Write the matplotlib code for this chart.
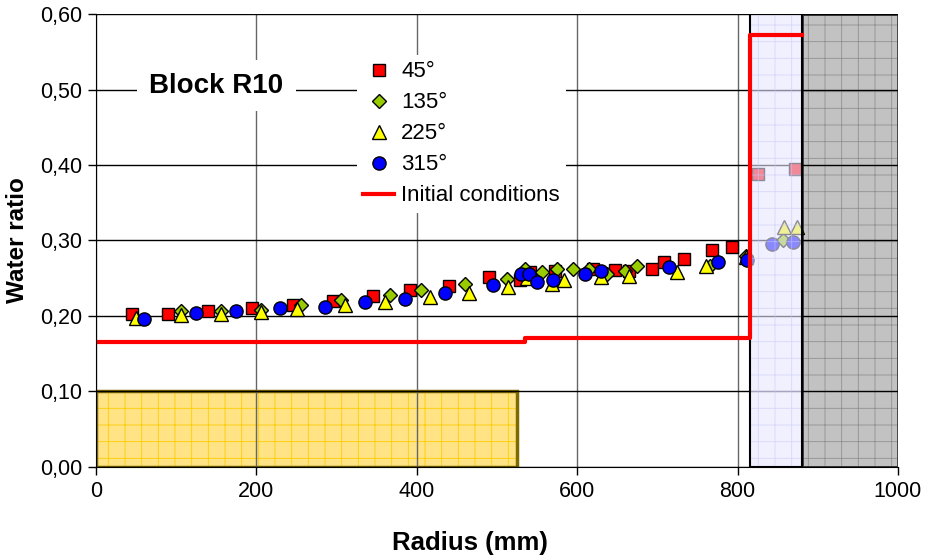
import numpy as np
import matplotlib
matplotlib.use('Agg')
import matplotlib.pyplot as plt
from matplotlib.patches import Rectangle
from matplotlib.ticker import FuncFormatter

plt.rcParams['font.family'] = ['Liberation Sans', 'DejaVu Sans']
plt.rcParams['hatch.linewidth'] = 0.6

# measured water ratio, block R10
r_45 = [45, 90, 140, 195, 245, 296, 345, 391, 440, 490, 529, 541, 572, 620, 647, 665, 693, 708, 733, 768, 793, 826, 871]
w_45 = [0.203, 0.202, 0.206, 0.211, 0.215, 0.220, 0.227, 0.234, 0.240, 0.252, 0.248, 0.258, 0.260, 0.262, 0.261, 0.259, 0.262, 0.271, 0.275, 0.287, 0.292, 0.388, 0.395]

r_135 = [106, 156, 206, 255, 305, 366, 405, 460, 512, 535, 556, 575, 595, 615, 637, 660, 675, 765, 810, 856]
w_135 = [0.206, 0.207, 0.208, 0.214, 0.221, 0.228, 0.234, 0.242, 0.249, 0.262, 0.258, 0.262, 0.262, 0.262, 0.256, 0.259, 0.266, 0.266, 0.279, 0.301]

r_225 = [50, 106, 156, 206, 250, 310, 360, 416, 465, 514, 538, 568, 583, 630, 664, 725, 760, 810, 858, 874]
w_225 = [0.198, 0.201, 0.202, 0.205, 0.209, 0.214, 0.219, 0.225, 0.231, 0.238, 0.250, 0.243, 0.248, 0.251, 0.253, 0.258, 0.266, 0.278, 0.318, 0.318]

r_315 = [60, 125, 175, 230, 286, 335, 385, 435, 495, 530, 540, 550, 570, 610, 630, 715, 775, 812, 843, 869]
w_315 = [0.196, 0.204, 0.206, 0.210, 0.212, 0.219, 0.223, 0.230, 0.241, 0.255, 0.255, 0.245, 0.248, 0.256, 0.260, 0.265, 0.271, 0.274, 0.295, 0.298]

# initial conditions (step profile)
r_init = [0, 535, 535, 815, 815, 880]
w_init = [0.165, 0.165, 0.171, 0.171, 0.572, 0.572]

# zones: (x0, x1, y0, y1)
zone_yellow = (0, 525, 0.0, 0.10)
zone_blue = (815, 880, 0.0, 0.60)
zone_gray = (880, 1000, 0.0, 0.60)

x_ticks = [0, 200, 400, 600, 800, 1000]
y_ticks = [0.0, 0.1, 0.2, 0.3, 0.4, 0.5, 0.6]


def zone(ax, z, face, hatchcol, border, lw, alpha, zorder):
    x0, x1, y0, y1 = z
    ax.add_patch(Rectangle((x0, y0), x1 - x0, y1 - y0, facecolor=face,
                           edgecolor=hatchcol, hatch='+', linewidth=0,
                           alpha=alpha, zorder=zorder))
    ax.add_patch(Rectangle((x0, y0), x1 - x0, y1 - y0, fill=False,
                           edgecolor=border, linewidth=lw, zorder=zorder + 0.1))


fig = plt.figure(figsize=(9.27, 5.58), dpi=100)
ax = fig.add_axes([0.1036, 0.1631, 0.8651, 0.8118])

zone(ax, zone_yellow, '#FFE385', '#FFCC00', '#7F6A00', 2.5, 1.0, 0.5)
zone(ax, zone_gray, '#B8B8B8', '#888888', '#333333', 2.0, 0.85, 1.5)

mk = dict(linestyle='none', markeredgecolor='black', markeredgewidth=1.0, zorder=3)
ax.plot(r_45, w_45, marker='s', markersize=9, markerfacecolor='#FF0000', label='45°', **mk)
ax.plot(r_135, w_135, marker='D', markersize=7, markerfacecolor='#99CC00', label='135°', **mk)
ax.plot(r_225, w_225, marker='^', markersize=10, markerfacecolor='#FFFF00', label='225°', **mk)
ax.plot(r_315, w_315, marker='o', markersize=9.5, markerfacecolor='#0000FF', label='315°', **mk)

zone(ax, zone_blue, '#E6E6FF', '#C8C8F5', 'black', 1.5, 0.6, 4)

ax.plot(r_init, w_init, color='#FF0000', linewidth=3, label='Initial conditions', zorder=5)

ax.set_xlim(0, 1000)
ax.set_ylim(0, 0.6)
ax.set_xticks(x_ticks)
ax.set_yticks(y_ticks)
ax.yaxis.set_major_formatter(FuncFormatter(lambda v, p: ('%.2f' % v).replace('.', ',')))
ax.tick_params(direction='out', length=6, width=1, labelsize=15.5, pad=4)

ax.grid(axis='y', color='black', linewidth=1.0, zorder=1)
ax.grid(axis='x', color='#666666', linewidth=1.0, zorder=1)
ax.set_axisbelow(False)
for gl in ax.get_xgridlines() + ax.get_ygridlines():
    gl.set_zorder(1)

ax.spines['top'].set_visible(False)
ax.spines['right'].set_visible(False)
ax.spines['left'].set_zorder(6)
ax.spines['bottom'].set_zorder(6)

ax.set_xlabel('Radius (mm)', fontsize=18.5, fontweight='bold')
ax.set_ylabel('Water ratio', fontsize=17.5, fontweight='bold')
ax.xaxis.set_label_coords(0.466, -0.142)
ax.yaxis.set_label_coords(-0.083, 0.5)

ax.text(150, 0.505, 'Block R10', fontsize=20, fontweight='bold', ha='center', va='center',
        bbox=dict(facecolor='white', edgecolor='none', pad=9), zorder=6)

leg = ax.legend(loc='upper left', bbox_to_anchor=(0.325, 0.91), fontsize=16,
                frameon=True, facecolor='white', edgecolor='none', framealpha=1,
                fancybox=False, labelspacing=0.45, handlelength=1.4,
                handletextpad=0.3, borderpad=0.3, borderaxespad=0)
leg.set_zorder(7)

fig.savefig('out.png', dpi=100)
